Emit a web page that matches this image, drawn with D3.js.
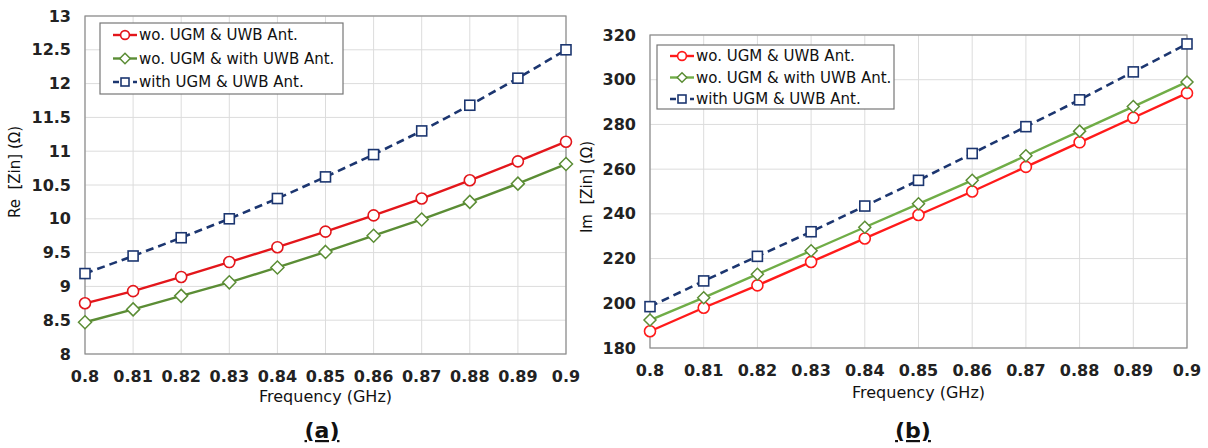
<!DOCTYPE html>
<html>
<head>
<meta charset="utf-8">
<script src="https://cdn.jsdelivr.net/npm/d3@7"></script>
<style>
  body { margin: 0; background: #fff; }
  svg { font-family: "DejaVu Sans", sans-serif; }
</style>
</head>
<body>
<svg id="chart" width="1208" height="448"></svg>
<script>
const freqs = [0.80, 0.81, 0.82, 0.83, 0.84, 0.85, 0.86, 0.87, 0.88, 0.89, 0.90];
const seriesNames = ["wo. UGM & UWB Ant.", "wo. UGM & with UWB Ant.", "with UGM & UWB Ant."];

// panel (a): real part
const reWo = [8.75, 8.93, 9.14, 9.36, 9.58, 9.81, 10.05, 10.30, 10.57, 10.85, 11.14];
const reWoWithAnt = [8.47, 8.66, 8.86, 9.06, 9.28, 9.51, 9.75, 9.99, 10.25, 10.52, 10.81];
const reWith = [9.19, 9.45, 9.72, 10.00, 10.30, 10.62, 10.95, 11.30, 11.68, 12.08, 12.50];
const reTicks = [8, 8.5, 9, 9.5, 10, 10.5, 11, 11.5, 12, 12.5, 13];

// panel (b): imaginary part
const imWo = [187.5, 198, 208, 218.5, 229, 239.5, 250, 261, 272, 283, 294];
const imWoWithAnt = [192.5, 202.5, 213, 223.5, 234, 244.5, 255, 266, 277, 288, 299];
const imWith = [198.5, 210, 221, 232, 243.5, 255, 267, 279, 291, 303.5, 316];
const imTicks = [180, 200, 220, 240, 260, 280, 300, 320];

const svg = d3.select("#chart");

function drawPanel(opt) {
  const g = svg.append("g");
  const x = d3.scaleLinear().domain([0.8, 0.9]).range([opt.left, opt.right]);
  const y = d3.scaleLinear().domain(opt.yDomain).range([opt.bottom, opt.top]);

  // grid
  g.append("g").selectAll("line").data(freqs).join("line")
    .attr("x1", d => x(d)).attr("x2", d => x(d))
    .attr("y1", opt.top).attr("y2", opt.bottom)
    .attr("stroke", "#dcdcdc").attr("stroke-width", 1);
  g.append("g").selectAll("line").data(opt.ticks).join("line")
    .attr("x1", opt.left).attr("x2", opt.right)
    .attr("y1", d => y(d)).attr("y2", d => y(d))
    .attr("stroke", "#dcdcdc").attr("stroke-width", 1);

  // frame
  g.append("rect")
    .attr("x", opt.left).attr("y", opt.top)
    .attr("width", opt.right - opt.left).attr("height", opt.bottom - opt.top)
    .attr("fill", "none").attr("stroke", "#8c8c8c").attr("stroke-width", 1.2);

  // tick labels
  g.append("g").selectAll("text").data(opt.ticks).join("text")
    .attr("x", opt.left - 14).attr("y", d => y(d)).attr("dy", "0.35em")
    .attr("text-anchor", "end").attr("font-size", 16).attr("font-weight", "bold")
    .attr("fill", "#222").text(d => d);
  g.append("g").selectAll("text").data(freqs).join("text")
    .attr("x", d => x(d)).attr("y", opt.bottom + 28)
    .attr("text-anchor", "middle").attr("font-size", 16).attr("font-weight", "bold")
    .attr("fill", "#222").text(d => +d.toFixed(2));

  // axis titles
  g.append("text")
    .attr("x", (opt.left + opt.right) / 2).attr("y", opt.bottom + opt.xTitleDy)
    .attr("text-anchor", "middle").attr("font-size", 16)
    .attr("fill", "#111").text("Frequency (GHz)");
  g.append("text")
    .attr("transform", `translate(${opt.yTitleX},${opt.yTitleY}) rotate(-90)`)
    .attr("text-anchor", "middle").attr("font-size", 15)
    .attr("fill", "#111").style("white-space", "pre").text(opt.yTitle);

  // caption
  g.append("text")
    .attr("x", opt.capX).attr("y", 438)
    .attr("text-anchor", "middle").attr("font-size", 22).attr("font-weight", "bold")
    .attr("text-decoration", "underline").attr("fill", "#111").text(opt.caption);

  const line = d3.line().x((d, i) => x(freqs[i])).y(d => y(d));

  opt.series.forEach(s => {
    g.append("path").datum(s.values)
      .attr("d", line).attr("fill", "none")
      .attr("stroke", s.color).attr("stroke-width", s.dash ? 2.6 : 2.4)
      .attr("stroke-dasharray", s.dash ? "8,5" : null);
    drawMarkers(g, s, s.values.map((v, i) => [x(freqs[i]), y(v)]));
  });

  // legend
  const lg = g.append("g");
  lg.append("rect")
    .attr("x", opt.legend.x).attr("y", opt.legend.y)
    .attr("width", opt.legend.w).attr("height", opt.legend.h)
    .attr("fill", "#fff").attr("stroke", "#777").attr("stroke-width", 1.2);
  opt.series.forEach((s, i) => {
    const cy = opt.legend.y + opt.legend.first + i * opt.legend.step;
    const x0 = opt.legend.x + 13, x1 = x0 + 24;
    lg.append("line").attr("x1", x0).attr("x2", x1).attr("y1", cy).attr("y2", cy)
      .attr("stroke", s.color).attr("stroke-width", 2.4)
      .attr("stroke-dasharray", s.dash ? "6,4" : null);
    drawMarkers(lg, Object.assign({}, s, { size: s.size * 0.8 }), [[(x0 + x1) / 2, cy]]);
    lg.append("text").attr("x", x1 + 2).attr("y", cy).attr("dy", "0.36em")
      .attr("font-size", opt.legend.font).attr("fill", "#111").text(s.name);
  });
}

function drawMarkers(g, s, pts) {
  const r = s.size;
  pts.forEach(([px, py]) => {
    if (s.shape === "circle") {
      g.append("circle").attr("cx", px).attr("cy", py).attr("r", r)
        .attr("fill", "#fff").attr("stroke", s.color).attr("stroke-width", 1.6);
    } else if (s.shape === "diamond") {
      g.append("path")
        .attr("d", `M${px},${py - r}L${px + r},${py}L${px},${py + r}L${px - r},${py}Z`)
        .attr("fill", "#fff").attr("stroke", s.mColor || s.color).attr("stroke-width", 1.5);
    } else {
      g.append("rect").attr("x", px - r).attr("y", py - r)
        .attr("width", 2 * r).attr("height", 2 * r)
        .attr("fill", "#fff").attr("stroke", s.color).attr("stroke-width", 1.6);
    }
  });
}

drawPanel({
  left: 85, right: 566, top: 16, bottom: 354,
  yDomain: [8, 13], ticks: reTicks,
  xTitleDy: 48, yTitle: "Re  [Zin] (Ω)", yTitleX: 20, yTitleY: 172,
  caption: "(a)", capX: 322,
  legend: { x: 100, y: 23, w: 243, h: 71, first: 12, step: 23.5, font: 15 },
  series: [
    { name: seriesNames[0], values: reWo, color: "#e3161b", shape: "circle", size: 5.5 },
    { name: seriesNames[1], values: reWoWithAnt, color: "#5b8d35", shape: "diamond", size: 6.5 },
    { name: seriesNames[2], values: reWith, color: "#1c3670", shape: "square", size: 5, dash: true }
  ]
});

drawPanel({
  left: 650, right: 1187, top: 35, bottom: 348,
  yDomain: [180, 320], ticks: imTicks,
  xTitleDy: 50, yTitle: "Im  [Zin] (Ω)", yTitleX: 592, yTitleY: 187,
  caption: "(b)", capX: 913,
  legend: { x: 657, y: 45, w: 237, h: 64, first: 11, step: 21.5, font: 15 },
  series: [
    { name: seriesNames[0], values: imWo, color: "#ff1a1a", shape: "circle", size: 5.5 },
    { name: seriesNames[1], values: imWoWithAnt, color: "#70ad47", mColor: "#5b8d35", shape: "diamond", size: 6 },
    { name: seriesNames[2], values: imWith, color: "#1c3670", shape: "square", size: 5, dash: true }
  ]
});
</script>
</body>
</html>
